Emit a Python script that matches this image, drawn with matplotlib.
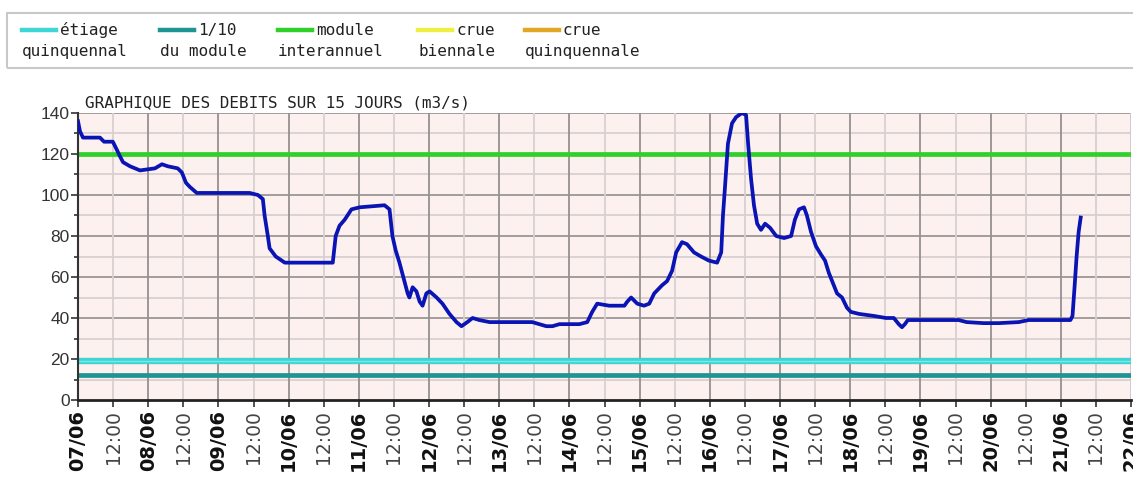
import matplotlib
matplotlib.use("Agg")
import matplotlib.pyplot as plt
from matplotlib.lines import Line2D
from matplotlib.patches import Rectangle
from matplotlib.ticker import MultipleLocator, FixedLocator

# ---------------- data ----------------
hours = [0, 0.7, 1.7, 7.5, 8.9, 11.9, 13.3, 14.3, 15.4, 17.8, 21.2, 26.3, 28.7, 30.7,
         34.1, 35.5, 36.9, 38.2, 40.6, 45.1, 58.7, 61.5, 63.2, 63.8, 64.9, 65.5, 67.6,
         70.7, 75.8, 87.1, 88.1, 89.4, 91.2, 93.5, 96.3, 104.8, 106.5, 107.5, 108.6,
         109.9, 111.6, 112.7, 113.3, 114.4, 115.7, 116.8, 117.8, 119.1, 120.2, 122.6,
         124.6, 127.0, 129.4, 131.1, 133.1, 134.9, 137.2, 140.7, 147.5, 155.3, 157.7,
         160.1, 162.2, 164.6, 171.4, 174.1, 175.8, 177.5, 181.6, 186.8, 187.8, 189.1,
         191.2, 193.5, 195.3, 197.0, 199.7, 201.4, 203.1, 204.5, 206.5, 208.2, 210.6,
         213.0, 215.7, 218.5, 219.9, 220.5, 221.2, 222.2, 223.6, 225.0, 227.0, 228.4,
         229.1, 230.1, 231.1, 232.2, 233.5, 234.9, 236.6, 238.7, 241.4, 243.8, 245.1,
         246.5, 248.2, 249.2, 250.6, 252.3, 254.0, 255.4, 256.7, 258.4, 259.5, 261.2,
         262.9, 264.2, 267.0, 272.1, 276.2, 278.9, 280.6, 281.7, 282.7, 283.7, 290.9,
         301.1, 303.8, 309.6, 314.8, 321.6, 325.0, 331.8, 339.3, 340.0, 340.7, 341.4,
         342.1, 342.8]
debits = [136, 131, 128, 128, 126, 126, 122, 119, 116, 114, 112, 113, 115, 114,
          113, 111, 106, 104, 101, 101, 101, 100, 98, 90, 80, 74, 70,
          67, 67, 67, 80, 85, 88, 93, 94, 95, 93, 80, 73,
          67, 58, 52, 50, 55, 53, 48, 46, 52, 53, 50,
          47, 42, 38, 36, 38, 40, 39, 38, 38, 38, 37,
          36, 36, 37, 37, 38, 43, 47, 46, 46, 48, 50,
          47, 46, 47, 52, 56, 58, 63, 72, 77, 76, 72,
          70, 68, 67, 72, 90, 104, 125, 135, 138, 140, 139,
          125, 108, 95, 86, 83, 86, 84, 80, 79, 80, 88,
          93, 94, 90, 82, 75, 71, 68, 62, 56, 52, 50,
          45, 43, 42, 41, 40, 40, 37, 35.5, 37, 39, 39,
          39, 38, 37.5, 37.5, 38, 39, 39, 39, 41, 55, 70,
          82, 89]

etiage_quinquennal = 19
dixieme_module = 12
module_interannuel = 120

day_labels = ["07/06", "08/06", "09/06", "10/06", "11/06", "12/06", "13/06", "14/06",
              "15/06", "16/06", "17/06", "18/06", "19/06", "20/06", "21/06", "22/06"]
half_label = "12:00"
y_ticks = [0, 20, 40, 60, 80, 100, 120, 140]

legend_top = ["étiage", "1/10", "module", "crue", "crue"]
legend_bottom = ["quinquennal", "du module", "interannuel", "biennale", "quinquennale"]
legend_colors = ["#3fd6d6", "#1f9494", "#2fd02a", "#eeee44", "#e0a825"]

# ---------------- figure ----------------
W, H = 1133, 494
fig = plt.figure(figsize=(W / 100, H / 100), dpi=100)
fig.patch.set_facecolor("white")

def fx(x):
    return x / W

def fy(y):
    return 1 - y / H

ax_left, ax_right, ax_top, ax_bottom = 78, 1131, 113, 400
ax = fig.add_axes([fx(ax_left), fy(ax_bottom), (ax_right - ax_left) / W, (ax_bottom - ax_top) / H])
ax.set_facecolor("#fdf1f0")

ax.set_xlim(0, 15 * 24)
ax.set_ylim(0, 140)

# x ticks every 12 h
xt = [12 * i for i in range(len(day_labels) * 2 - 1)]
xlabels = []
for i in range(len(xt)):
    xlabels.append(day_labels[i // 2] if i % 2 == 0 else half_label)
ax.xaxis.set_major_locator(FixedLocator(xt))
ax.set_xticklabels(xlabels, rotation=90)
for i, lab in enumerate(ax.get_xticklabels()):
    if i % 2 == 0:
        lab.set_fontweight("bold")
        lab.set_color("#111111")
        lab.set_fontsize(14)
    else:
        lab.set_fontweight("normal")
        lab.set_color("#444444")
        lab.set_fontsize(13.5)
    lab.set_family("DejaVu Sans")

ax.yaxis.set_major_locator(FixedLocator(y_ticks))
ax.yaxis.set_minor_locator(MultipleLocator(10))
ax.set_yticklabels([str(v) for v in y_ticks])
for lab in ax.get_yticklabels():
    lab.set_family("Liberation Sans")
    lab.set_fontsize(12.5)
    lab.set_color("#333333")

ax.tick_params(axis="x", length=5, width=1.2, color="#333333", pad=2)
ax.tick_params(axis="y", which="major", length=5, width=1.2, color="#333333", pad=1)
ax.tick_params(axis="y", which="minor", length=3, width=1.2, color="#333333")

# grid
for v in range(10, 141, 10):
    ax.axhline(v, color="#9c9696" if v % 20 == 0 else "#d8d0d0", lw=1.3, zorder=1)
for i, h in enumerate(xt + [360]):
    if h == 0:
        continue
    ax.axvline(h, color="#969090" if i % 2 == 0 else "#d8d0d0", lw=1.3, zorder=1)

for s in ["top", "right"]:
    ax.spines[s].set_visible(False)
ax.spines["left"].set_color("#333333")
ax.spines["left"].set_linewidth(1.5)
ax.spines["bottom"].set_color("#222222")
ax.spines["bottom"].set_linewidth(2)

# threshold lines
ax.axhline(etiage_quinquennal, color="#3fd4d4", lw=4.6, zorder=2)
ax.axhline(etiage_quinquennal, color="#7fe8e8", lw=1.0, zorder=2)
ax.axhline(dixieme_module, color="#1f9494", lw=3.4, zorder=2)
ax.axhline(module_interannuel, color="#2fd02a", lw=3.4, zorder=2)

# flow series
ax.plot(hours, debits, color="#0a14b4", lw=2.7, zorder=3, solid_joinstyle="round")

# title
fig.text(fx(85), fy(107), "GRAPHIQUE DES DEBITS SUR 15 JOURS (m3/s)",
         family="DejaVu Sans Mono", fontsize=11.5, color="#222222", va="baseline")

# legend box
fig.add_artist(Rectangle((fx(7), fy(68)), fx(1140) - fx(7), fy(13) - fy(68),
                         transform=fig.transFigure, fill=False, edgecolor="#c8c8c8", lw=1.5))
line_x = [22, 160, 278, 418, 525]
for lx, top, bot, col in zip(line_x, legend_top, legend_bottom, legend_colors):
    fig.add_artist(Line2D([fx(lx), fx(lx + 34)], [fy(30), fy(30)], transform=fig.transFigure,
                          color=col, lw=3.2))
    fig.text(fx(lx + 38), fy(35), top, family="DejaVu Sans Mono", fontsize=11.5,
             color="#222222", va="baseline")
    fig.text(fx(lx), fy(56), bot, family="DejaVu Sans Mono", fontsize=11.5,
             color="#222222", va="baseline")

fig.savefig("out.png", dpi=100)
